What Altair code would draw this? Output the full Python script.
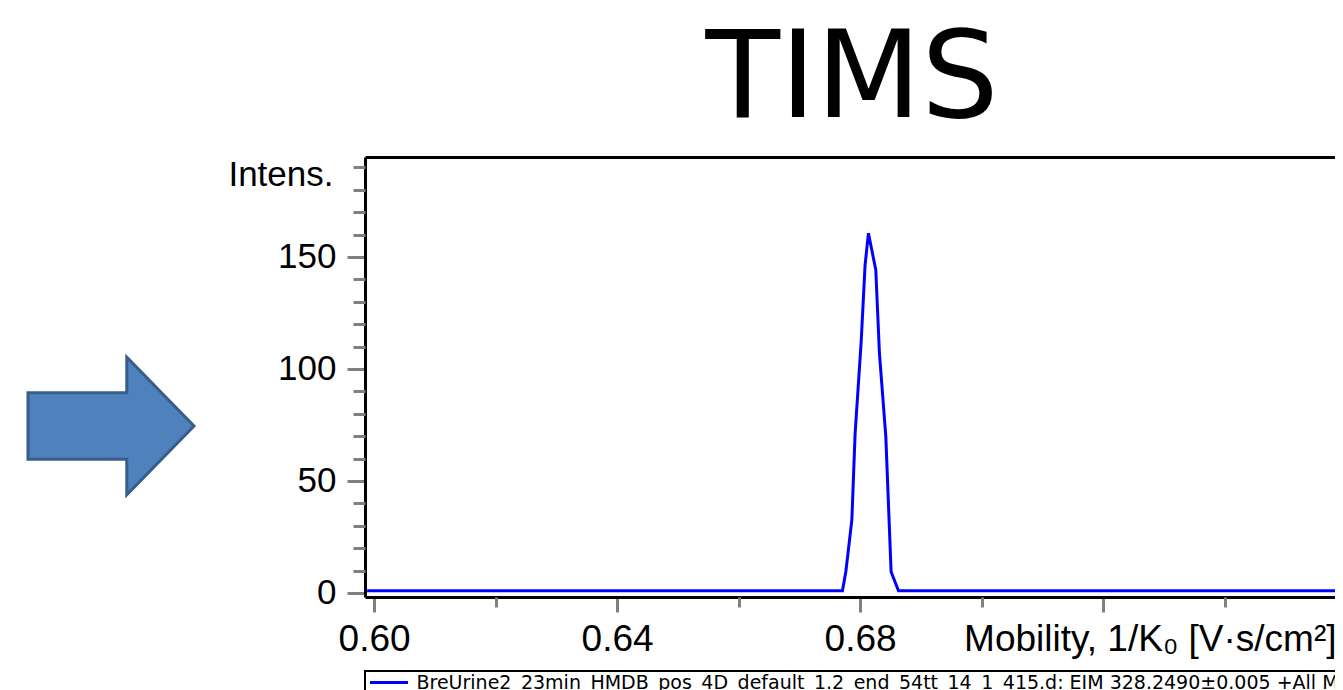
import altair as alt
import pandas as pd

# ---- data ----
mobility = [0.59885, 0.67709, 0.67765, 0.67864, 0.67918, 0.68016, 0.68082,
            0.68137, 0.68258, 0.68318, 0.68423, 0.68510, 0.68631, 0.75852]
intensity = [1.0, 1.0, 9.5, 32.6, 71.3, 111.5, 146.4,
             160.6, 144.2, 107.0, 69.9, 9.5, 1.0, 1.0]
series_name = ("BreUrine2_23min_HMDB_pos_4D_default_1.2_end_54tt_14_1_415.d: "
               "EIM 328.2490\u00b10.005 +All MS")
chart_title = "TIMS"

x_major = [0.60, 0.64, 0.68, 0.72, 0.76]
x_minor = [0.62, 0.66, 0.70, 0.74]
y_major = [0, 50, 100, 150]
y_minor = [10, 20, 30, 40, 60, 70, 80, 90, 110, 120, 130, 140, 160, 170, 180, 190]

x_domain = [0.5985, 0.75817]
y_domain = [-1.8, 194.6]

PLOT_W, PLOT_H = 970, 440

df = pd.DataFrame({"mob": mobility, "int": intensity, "series": [series_name] * len(mobility)})
one = pd.DataFrame({"t": [chart_title]})

AX_FONT = "Liberation Sans"
xs = alt.Scale(domain=x_domain, zero=False, nice=False)
ys = alt.Scale(domain=y_domain, zero=False, nice=False)

main = alt.Chart(df).mark_line(strokeWidth=3).encode(
    x=alt.X("mob:Q", scale=xs, axis=alt.Axis(
        orient="bottom", values=x_major, tickSize=15, tickWidth=3, tickColor="#808080",
        domain=True, domainColor="black", domainWidth=3, grid=False,
        labelExpr="datum.value < 0.7 ? format(datum.value, '.2f') : ''",
        labelFont=AX_FONT, labelFontSize=37, labelColor="black",
        labelBaseline="alphabetic", labelPadding=38, labelFlush=False, labelOverlap=False,
        title="Mobility, 1/K\u2080 [V\u00b7s/cm\u00b2]", titleFont=AX_FONT, titleFontSize=37,
        titleFontWeight="normal", titleColor="black", titleAlign="right",
        titleBaseline="alphabetic", titleX=PLOT_W + 1, titleY=53, titleAnchor="end")),
    y=alt.Y("int:Q", scale=ys, axis=alt.Axis(
        orient="left", values=y_major, tickSize=18, tickWidth=3, tickColor="#808080",
        domain=True, domainColor="black", domainWidth=3, grid=False,
        labelFont=AX_FONT, labelFontSize=35, labelColor="black", labelPadding=11,
        labelOverlap=False,
        title="Intens.", titleFont=AX_FONT, titleFontSize=35, titleFontWeight="normal",
        titleColor="black", titleAngle=0, titleAlign="right", titleBaseline="alphabetic",
        titleX=-32, titleY=28)),
    color=alt.Color("series:N", scale=alt.Scale(range=["#0000ff"]), legend=alt.Legend(
        orient="none", legendX=0, legendY=514, title=None,
        symbolType="M-2.111,0 L2.111,0", symbolStrokeWidth=3, symbolSize=324,
        symbolOffset=12.5, symbolFillColor="transparent",
        labelFont="DejaVu Sans", labelFontSize=19, labelColor="black",
        labelLimit=3000, labelOffset=17, padding=1,
        strokeColor="black", fillColor="white")),
)

minor = alt.Chart(df).mark_line(strokeOpacity=0).encode(
    x=alt.X("mob:Q", scale=xs, axis=alt.Axis(
        orient="bottom", values=x_minor, tickSize=10, tickWidth=3, tickColor="#808080",
        domain=False, grid=False, labels=False, title=None)),
    y=alt.Y("int:Q", scale=ys, axis=alt.Axis(
        orient="left", values=y_minor, tickSize=12, tickWidth=3, tickColor="#808080",
        domain=False, grid=False, labels=False, title=None)),
)

top = alt.Chart(df).mark_line(strokeOpacity=0).encode(
    x=alt.X("mob:Q", scale=xs, axis=alt.Axis(
        orient="top", domain=True, domainColor="black", domainWidth=3,
        ticks=False, labels=False, grid=False, title=None)),
    y=alt.Y("int:Q", scale=ys, axis=None),
)

# big title text above the plot
title_txt = alt.Chart(one).mark_text(
    font="DejaVu Sans", fontSize=122, color="black", align="center", baseline="alphabetic"
).encode(text="t:N", x=alt.value(487), y=alt.value(-40))

# decorative block arrow on the left
arrow_path = "M-1,-0.4 L0.19,-0.4 L0.19,-0.83 L1,0 L0.19,0.83 L0.19,0.4 L-1,0.4 Z"
arrow = alt.Chart(one).mark_point(
    shape=arrow_path, filled=True, fill="#4f81bd", stroke="#385d8a",
    strokeWidth=3, opacity=1, size=27556,
).encode(x=alt.value(-254), y=alt.value(269))

chart = alt.layer(main, minor, top, title_txt, arrow).resolve_axis(
    x="independent", y="independent"
).properties(
    width=PLOT_W, height=PLOT_H,
    autosize=alt.AutoSizeParams(type="none"),
    padding={"left": 357, "top": 149, "right": 0, "bottom": 93},
).configure_view(stroke=None).configure_legend(strokeWidth=2)

chart.save("out.html", embed_options={"renderer": "svg", "actions": False})
